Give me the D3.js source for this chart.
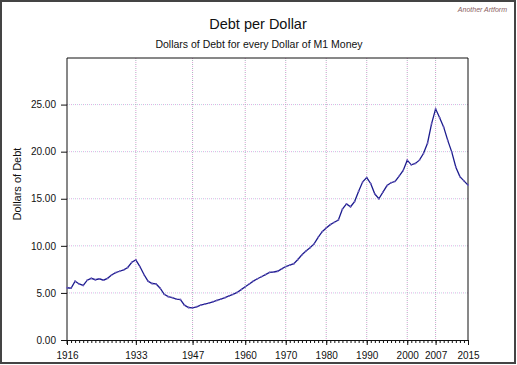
<!DOCTYPE html>
<html><head><meta charset="utf-8">
<script src="https://cdn.jsdelivr.net/npm/d3@7"></script>
<style>body{margin:0;background:#fff}svg{display:block}</style>
</head><body>
<script>
const years = d3.range(1916, 2016);
const debtPerDollar = [
5.55,5.50,6.25,5.95,5.80,6.35,6.55,6.40,6.50,6.35,
6.55,6.90,7.15,7.30,7.45,7.70,8.25,8.50,7.80,6.95,
6.25,6.00,5.95,5.50,4.85,4.60,4.50,4.35,4.30,3.70,
3.45,3.42,3.53,3.70,3.82,3.92,4.06,4.20,4.35,4.50,
4.68,4.85,5.05,5.35,5.65,5.95,6.25,6.50,6.72,6.95,
7.18,7.22,7.30,7.55,7.80,7.95,8.10,8.55,9.05,9.45,
9.80,10.20,10.90,11.50,11.90,12.25,12.50,12.75,13.90,14.45,
14.15,14.70,15.80,16.80,17.25,16.60,15.50,15.00,15.70,16.40,
16.70,16.85,17.40,18.00,19.10,18.60,18.75,19.10,19.80,20.90,
22.95,24.55,23.60,22.60,21.20,19.95,18.35,17.35,16.90,16.45];
const xTickYears = [1916,1933,1947,1960,1970,1980,1990,2000,2007,2015];
const yTicks = [0,5,10,15,20,25];
const title = "Debt per Dollar";
const subtitle = "Dollars of Debt for every Dollar of M1 Money";
const yLabel = "Dollars of Debt";
const credit = "Another Artform";

const W = 517, H = 365;
const L = 67, R = 468, T = 58, B = 340;
const svg = d3.select("body").append("svg").attr("width", W).attr("height", H)
  .style("font-family", "'Liberation Sans', Arial, sans-serif");

svg.append("rect").attr("x",1).attr("y",1).attr("width",W-3).attr("height",H-3)
  .attr("fill","#fff").attr("stroke","#444").attr("stroke-width",2);

const x = d3.scaleLinear().domain([1916, 2015]).range([L, R]);
const y = d3.scaleLinear().domain([0, 30]).range([B, 57.5]);

// gridlines
const grid = svg.append("g");
yTicks.filter(v => v > 0).forEach(v => {
  grid.append("line").attr("x1",L).attr("x2",R).attr("y1",y(v)).attr("y2",y(v))
    .attr("stroke","#e0a8e0").attr("stroke-dasharray","1,3");
  grid.append("line").attr("x1",L+2).attr("x2",R).attr("y1",y(v)).attr("y2",y(v))
    .attr("stroke","#b8d8e0").attr("stroke-dasharray","1,3");
});
xTickYears.filter(v => v > 1916 && v < 2015).forEach(v => {
  grid.append("line").attr("x1",x(v)).attr("x2",x(v)).attr("y1",T).attr("y2",B)
    .attr("stroke","#e0a0d8").attr("stroke-dasharray","1,3");
  grid.append("line").attr("x1",x(v)).attr("x2",x(v)).attr("y1",T+2).attr("y2",B)
    .attr("stroke","#a0b8b8").attr("stroke-dasharray","1,3");
});

// frame
svg.append("line").attr("x1",L).attr("x2",R).attr("y1",T).attr("y2",T).attr("stroke","#111");
svg.append("line").attr("x1",R).attr("x2",R).attr("y1",T).attr("y2",B).attr("stroke","#111");

// axes
const xAxis = d3.axisBottom(x).tickValues(years).tickSize(3).tickFormat("");
const gx = svg.append("g").attr("transform",`translate(0,${B})`).call(xAxis);
gx.select(".domain").attr("stroke","#111");
gx.selectAll(".tick line").attr("stroke","#111");
const xMajor = d3.axisBottom(x).tickValues(xTickYears).tickSize(5).tickFormat(d3.format("d"));
const gx2 = svg.append("g").attr("transform",`translate(0,${B})`).call(xMajor);
gx2.select(".domain").remove();
gx2.selectAll(".tick line").attr("stroke","#111");
gx2.selectAll(".tick text").attr("fill","#111").attr("font-size","10px")
  .attr("font-family","'Liberation Sans', Arial, sans-serif").attr("dy","1.1em");

const yAxis = d3.axisLeft(y).tickValues(yTicks).tickSize(6).tickPadding(5).tickFormat(d3.format(".2f"));
const gy = svg.append("g").attr("transform",`translate(${L},0)`).call(yAxis);
gy.select(".domain").attr("d",`M0,${T}V${B+4}`).attr("stroke","#111");
gy.selectAll(".tick line").attr("stroke","#111");
gy.selectAll(".tick text").attr("fill","#111").attr("font-size","10px")
  .attr("font-family","'Liberation Sans Narrow', 'Liberation Sans', Arial, sans-serif");

// line
const pts = years.map((yr,i) => [yr, debtPerDollar[i]]);
svg.append("path").datum(pts)
  .attr("fill","none").attr("stroke","#1c1c8e").attr("stroke-width",1.3)
  .attr("d", d3.line().x(d => x(d[0])).y(d => y(d[1])));
svg.append("g").selectAll("circle").data(pts).join("circle")
  .attr("cx", d => x(d[0])).attr("cy", d => y(d[1])).attr("r", 0.9)
  .attr("fill","#7060c0");

// texts
svg.append("text").attr("x",258).attr("y",29).attr("text-anchor","middle")
  .attr("font-size","14.5px").attr("fill","#111").text(title);
svg.append("text").attr("x",259).attr("y",48).attr("text-anchor","middle")
  .attr("font-size","10.5px").attr("fill","#111").text(subtitle);
svg.append("text").attr("transform",`translate(21,184) rotate(-90)`).attr("text-anchor","middle")
  .attr("font-size","11px").attr("fill","#111").text(yLabel);
svg.append("text").attr("x",507).attr("y",12).attr("text-anchor","end")
  .attr("font-size","7px").attr("font-style","italic").attr("fill","#8a6060").text(credit);
</script>
</body></html>
